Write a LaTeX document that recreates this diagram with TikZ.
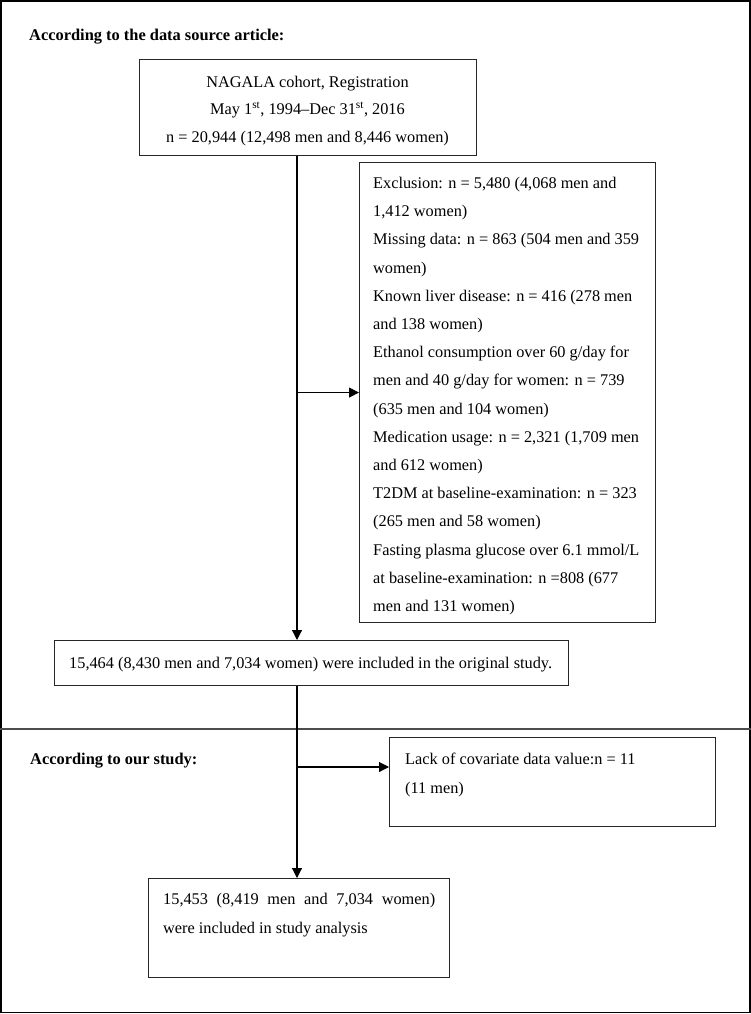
\documentclass[tikz,border=0pt]{standalone}
\usepackage{fontspec}
\setmainfont{Liberation Serif}
\usetikzlibrary{arrows.meta}
\begin{document}
\begin{tikzpicture}[x=1pt,y=-1pt,
  box/.style={draw=black!85, line width=1.1pt, inner sep=0pt, anchor=north west},
  body/.style={inner sep=0pt, font=\fontsize{16.3}{28.2}\selectfont},
  head/.style={inner sep=0pt, anchor=base west, font=\fontsize{16.4}{20}\selectfont\bfseries},
  flow/.style={line width=1.1pt, -{Triangle[length=10pt,width=10pt]}},
  plain/.style={line width=1.1pt}]
\useasboundingbox (0,0) rectangle (751,1014);
\draw[line width=1.6pt] (1,0.8) rectangle (750,1012.5);
\draw[line width=1.3pt, black!70] (0,729) -- (751,729);
% headings
\node[head] (h1) at (29,41) {According to the data source article:};
\node[head] (h2) at (30,764) {According to our study:};
% boxes
\node[box, minimum width=337pt, minimum height=96pt] (b1) at (139,59) {};
\node[box, minimum width=296pt, minimum height=460pt] (ex) at (359,162) {};
\node[box, minimum width=514pt, minimum height=45pt] (b2) at (54,640) {};
\node[box, minimum width=326pt, minimum height=89pt] (lk) at (389,737) {};
\node[box, minimum width=301pt, minimum height=99pt] (b3) at (148,878) {};
% texts (base anchor of a multi-line node = baseline of its last line)
\node[body, align=center, font=\fontsize{16.3}{27.5}\selectfont, anchor=base] (t1) at (307.5,142.5)
  {NAGALA cohort, Registration\\ May 1\textsuperscript{st}, 1994--Dec 31\textsuperscript{st}, 2016\\ n = 20,944 (12,498 men and 8,446 women)};
\node[body, align=left, anchor=base west] (tex) at (373,611.5)
  {Exclusion: n = 5,480 (4,068 men and\\
   1,412 women)\\
   Missing data: n = 863 (504 men and 359\\
   women)\\
   Known liver disease: n = 416 (278 men\\
   and 138 women)\\
   Ethanol consumption over 60 g/day for\\
   men and 40 g/day for women: n = 739\\
   (635 men and 104 women)\\
   Medication usage: n = 2,321 (1,709 men\\
   and 612 women)\\
   T2DM at baseline-examination: n = 323\\
   (265 men and 58 women)\\
   Fasting plasma glucose over 6.1 mmol/L\\
   at baseline-examination: n =808 (677\\
   men and 131 women)};
\node[body, anchor=base west] (t2) at (69,668.5)
  {15,464 (8,430 men and 7,034 women) were included in the original study.};
\node[body, align=left, font=\fontsize{16.3}{29}\selectfont, anchor=base west] (tlk) at (405,793.5)
  {Lack of covariate data value:n = 11\\ (11 men)};
\node[body, align=left, anchor=base west] (t3) at (163,933)
  {\makebox[272pt][s]{15,453 (8,419 men and 7,034 women)}\\ were included in study analysis};
% connectors
\coordinate (v) at (297,0);
\coordinate (a2) at (297,767);
\draw[flow] (v |- b1.south) -- (v |- b2.north);
\draw[flow] (v |- ex.west) -- (ex.west);
\draw[plain] (v |- b2.south) -- (a2);
\draw[flow] (a2) -- (a2 -| lk.west);
\draw[flow] (a2) -- (v |- b3.north);
\end{tikzpicture}
\end{document}
